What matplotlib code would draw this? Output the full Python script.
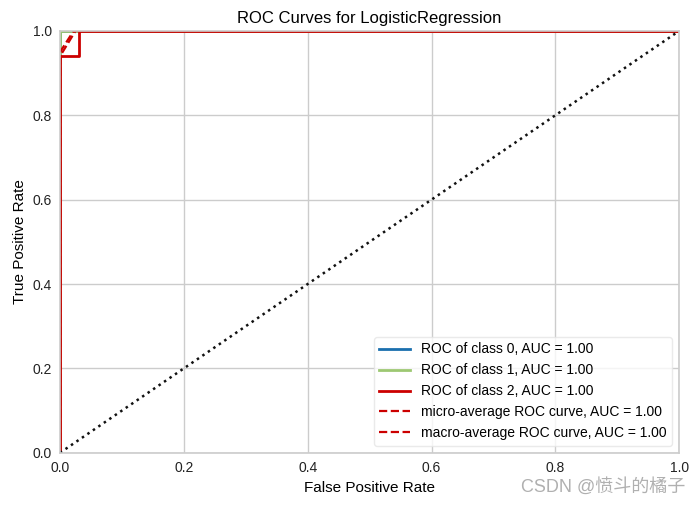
import matplotlib.pyplot as plt

# ROC curve points
fpr_0 = [0.0, 0.0, 1.0]
tpr_0 = [0.0, 1.0, 1.0]
fpr_1 = [0.0, 0.0, 1.0]
tpr_1 = [0.0, 1.0, 1.0]
fpr_2 = [0.0, 0.0, 0.03, 0.03, 1.0]
tpr_2 = [0.0, 0.94, 0.94, 1.0, 1.0]
fpr_micro = [0.0, 0.0, 0.022, 1.0]
tpr_micro = [0.0, 0.95, 1.0, 1.0]
fpr_macro = [0.0, 0.0, 0.025, 1.0]
tpr_macro = [0.0, 0.94, 1.0, 1.0]
auc_values = [1.00, 1.00, 1.00, 1.00, 1.00]

plt.rcParams['font.family'] = ['Liberation Sans', 'DejaVu Sans']

fig = plt.figure(figsize=(6.98, 5.07), dpi=100)
ax = fig.add_axes([0.086, 0.107, 0.887, 0.832])

ax.plot(fpr_0, tpr_0, color='#1a6fae', lw=2,
        label='ROC of class 0, AUC = {:0.2f}'.format(auc_values[0]))
ax.plot(fpr_1, tpr_1, color='#9dc872', lw=2,
        label='ROC of class 1, AUC = {:0.2f}'.format(auc_values[1]))
ax.plot(fpr_2, tpr_2, color='#cc0000', lw=2,
        label='ROC of class 2, AUC = {:0.2f}'.format(auc_values[2]))
ax.plot(fpr_micro, tpr_micro, color='#cc0000', ls='--', lw=1.6,
        label='micro-average ROC curve, AUC = {:0.2f}'.format(auc_values[3]))
ax.plot(fpr_macro, tpr_macro, color='#cc0000', ls='--', lw=1.6,
        label='macro-average ROC curve, AUC = {:0.2f}'.format(auc_values[4]))
ax.plot([0, 1], [0, 1], color='#111111', ls=':', lw=1.8)

ax.set_xlim(0, 1)
ax.set_ylim(0, 1)
ax.set_title('ROC Curves for LogisticRegression', fontsize=12)
ax.set_xlabel('False Positive Rate', fontsize=11)
ax.set_ylabel('True Positive Rate', fontsize=11)
ax.tick_params(labelsize=10, length=0, pad=6, labelcolor='#222222')

ax.grid(True, color='#cccccc', lw=1)
ax.set_axisbelow(True)
for s in ax.spines.values():
    s.set_color('#cccccc')
    s.set_linewidth(1.2)

ax.legend(loc='lower right', frameon=True, fontsize=10, edgecolor='#e5e5e5',
          framealpha=0.8, handlelength=2.2, borderaxespad=0.5)

# watermark
fig.text(0.982, 0.04, 'CSDN @愤斗的橘子', ha='right', va='center', fontsize=13,
         color='#b0b0b0', family=['Liberation Sans', 'Noto Sans CJK SC'])

fig.savefig('out.png', dpi=100)
